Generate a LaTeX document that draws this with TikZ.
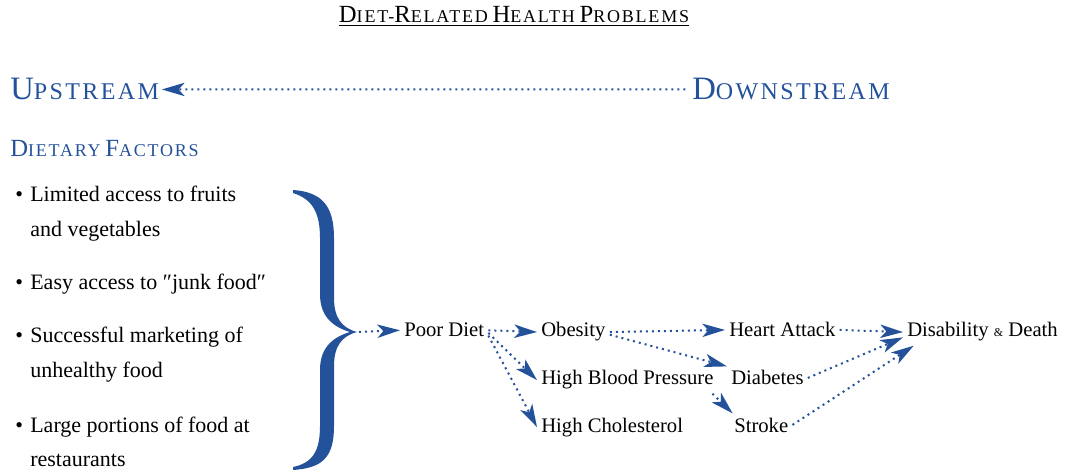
\documentclass[tikz,border=0pt]{standalone}
\usepackage{fontspec}
\setmainfont{Liberation Serif}
\newfontfamily\scfont[LetterSpace=10]{Liberation Serif}
\usetikzlibrary{arrows.meta}
\definecolor{diagblue}{RGB}{36,82,154}
% fake small caps: cap size, small size, first letter, rest
\newcommand\fsc[4]{{\fontsize{#1}{#1}\selectfont#3}{\fontsize{#2}{#2}\selectfont#4}}
\tikzset{
    stage/.style = {anchor=base west, inner sep=3pt, font=\fontsize{15.5}{19}\selectfont},
    item/.style = {anchor=base west, inner sep=0pt, font=\fontsize{16.5}{26}\selectfont},
    head/.style = {anchor=base west, inner sep=0pt, text=diagblue, font=\scfont},
    link/.style = {diagblue, line width=1.5pt, dash pattern=on 1.5pt off 3pt},
}

\begin{document}
\begin{tikzpicture}[x=0.75pt,y=-0.75pt,->,>={Stealth[length=17pt,width=10pt,inset=4.5pt]}]
 \useasboundingbox (0,0) rectangle (1077,473);

 \node (title) [anchor=base, inner sep=0pt, font=\scfont] at (514,23)
   {\underline{\fsc{18.5}{13.5}{D}{IET-}\fsc{18.5}{13.5}{R}{ELATED} \fsc{18.5}{13.5}{H}{EALTH} \fsc{18.5}{13.5}{P}{ROBLEMS}}};
 \node (up) [head] at (10,100) {\fsc{24.5}{18}{U}{PSTREAM}};
 \node (down) [head] at (692,100) {\fsc{24.5}{18}{D}{OWNSTREAM}};
 \node (fac) [head] at (10,157) {\fsc{18.5}{13.5}{D}{IETARY} \fsc{18.5}{13.5}{F}{ACTORS}};

 % dietary factors
 \node (b1) [item] at (15,202) {\begin{tabular}[t]{@{}l@{\hspace{5.5pt}}l@{}}
   \textbullet & Limited access to fruits\\ & and vegetables\end{tabular}};
 \node (b2) [item] at (15,290) {\begin{tabular}[t]{@{}l@{\hspace{5.5pt}}l@{}}
   \textbullet & Easy access to ″junk food″\end{tabular}};
 \node (b3) [item] at (15,343) {\begin{tabular}[t]{@{}l@{\hspace{5.5pt}}l@{}}
   \textbullet & Successful marketing of\\ & unhealthy food\end{tabular}};
 \node (b4) [item] at (15,432) {\begin{tabular}[t]{@{}l@{\hspace{5.5pt}}l@{}}
   \textbullet & Large portions of food at\\ & restaurants\end{tabular}};

 % brace
 \fill[-,diagblue] (293,190) .. controls (322,192) and (334,206) .. (334,238)
   -- (334,298) .. controls (334,318) and (342,328) .. (357,332)
   .. controls (342,336) and (334,346) .. (334,366)
   -- (334,426) .. controls (334,458) and (322,468) .. (293,470)
   -- (293,467) .. controls (312,463) and (320,452) .. (320,426)
   -- (320,370) .. controls (320,350) and (330,338) .. (350,332)
   .. controls (330,326) and (320,314) .. (320,294)
   -- (320,238) .. controls (320,212) and (312,199) .. (293,193) -- cycle;
 \coordinate (tip) at (359,332);

 \node (n1) [stage] at (400,337) {Poor Diet};
 \node (n2) [stage] at (537,337) {Obesity};
 \node (n3) [stage] at (537,385) {High Blood Pressure};
 \node (n4) [stage] at (537,432) {High Cholesterol};
 \node (n5) [stage] at (725,337) {Heart Attack};
 \node (n6) [stage] at (727,385) {Diabetes};
 \node (n7) [stage] at (730,432) {Stroke};
 \node (n8) [stage] at (903,337) {Disability {\small\&} Death};

 \draw[link,shorten <=5pt,shorten >=2pt] (down.west) to (up.east);
 \draw[link] (tip) to (n1.west);
 \draw[link] (n1.east) to (n2.west);
 \draw[link] ([yshift=-2pt]n1.east) to (n3.west);
 \draw[link] ([yshift=-4pt]n1.east) to (n4.west);
 \draw[link] (n2.east) to (n5.west);
 \draw[link] ([yshift=-2pt]n2.east) to (n6.north west);
 \draw[link] ([xshift=-4pt]n3.south east) to ([xshift=2pt]n7.north west);
 \draw[link] (n5.east) to (n8.west);
 \draw[link] (n6.east) to ([yshift=-4pt]n8.west);
 \draw[link] (n7.east) to ([xshift=8pt]n8.south west);
\end{tikzpicture}
\end{document}
